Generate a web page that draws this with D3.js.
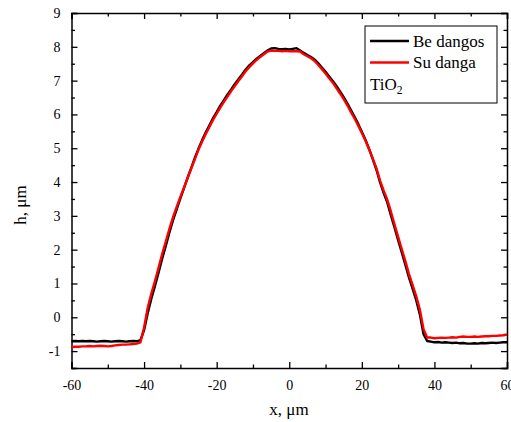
<!DOCTYPE html>
<html>
<head>
<meta charset="utf-8">
<script src="https://cdn.jsdelivr.net/npm/d3@7/dist/d3.min.js"></script>
<style>
  html, body { margin: 0; padding: 0; background: #fff; }
  svg { display: block; font-family: "Liberation Serif", "Times New Roman", serif; }
</style>
</head>
<body>
<svg id="chart" width="511" height="422"></svg>
<script>
// Profile positions, µm
const xPositions = d3.range(-60, 61, 1);

// Height profile before immersion (Be dangos), µm
const hBeDangos = [
  -0.71, -0.70, -0.71, -0.70, -0.71, -0.70, -0.71, -0.72, -0.71, -0.70,
  -0.71, -0.72, -0.71, -0.70, -0.71, -0.72, -0.71, -0.70, -0.71, -0.68,
  -0.38, 0.12, 0.55, 0.93, 1.33, 1.74, 2.12, 2.52, 2.88, 3.20,
  3.52, 3.82, 4.13, 4.42, 4.72, 4.99, 5.24, 5.47, 5.68, 5.89,
  6.07, 6.26, 6.42, 6.59, 6.74, 6.90, 7.04, 7.18, 7.33, 7.45,
  7.55, 7.65, 7.73, 7.81, 7.89, 7.95, 7.96, 7.94, 7.93, 7.94,
  7.92, 7.94, 7.96, 7.89, 7.82, 7.76, 7.70, 7.62, 7.51, 7.39,
  7.26, 7.12, 6.99, 6.84, 6.68, 6.51, 6.33, 6.13, 5.93, 5.72,
  5.49, 5.25, 4.98, 4.68, 4.37, 4.00, 3.68, 3.40, 3.02, 2.66,
  2.28, 1.92, 1.55, 1.17, 0.84, 0.50, 0.08, -0.50, -0.70, -0.72,
  -0.74, -0.73, -0.75, -0.74, -0.75, -0.76, -0.75, -0.77, -0.76, -0.78,
  -0.78, -0.77, -0.78, -0.76, -0.77, -0.76, -0.75, -0.76, -0.75, -0.74,
  -0.74
];

// Height profile with the cover layer (Su danga), µm
const hSuDanga = [
  -0.88, -0.87, -0.87, -0.86, -0.86, -0.85, -0.86, -0.85, -0.84, -0.85,
  -0.86, -0.85, -0.83, -0.82, -0.81, -0.81, -0.80, -0.79, -0.78, -0.74,
  -0.30, 0.28, 0.70, 1.07, 1.47, 1.88, 2.25, 2.62, 2.97, 3.27,
  3.56, 3.84, 4.12, 4.40, 4.68, 4.96, 5.20, 5.42, 5.63, 5.84,
  6.02, 6.20, 6.37, 6.53, 6.69, 6.84, 6.99, 7.13, 7.28, 7.40,
  7.51, 7.61, 7.70, 7.78, 7.86, 7.89, 7.88, 7.88, 7.87, 7.88,
  7.87, 7.87, 7.87, 7.86, 7.78, 7.72, 7.66, 7.58, 7.46, 7.34,
  7.21, 7.07, 6.94, 6.78, 6.62, 6.45, 6.27, 6.07, 5.88, 5.67,
  5.45, 5.22, 4.97, 4.70, 4.42, 4.05, 3.75, 3.48, 3.13, 2.75,
  2.38, 2.02, 1.66, 1.28, 0.95, 0.62, 0.22, -0.35, -0.60, -0.60,
  -0.62, -0.61, -0.60, -0.61, -0.60, -0.59, -0.60, -0.58, -0.57, -0.58,
  -0.58, -0.57, -0.58, -0.57, -0.56, -0.56, -0.55, -0.55, -0.54, -0.53,
  -0.51
];

const seriesNames = ["Be dangos", "Su danga"];
const seriesColors = ["#000000", "#ff0000"];
const xTicks = [-60, -40, -20, 0, 20, 40, 60];
const yTicks = [-1, 0, 1, 2, 3, 4, 5, 6, 7, 8, 9];
const xTitle = "x, \u03bcm";
const yTitle = "h, \u03bcm";

const svg = d3.select("#chart");
const plotLeft = 71.5, plotRight = 507, plotTop = 13, plotBottom = 368;

const x = d3.scaleLinear().domain([-60, 60]).range([plotLeft, plotRight]);
const y = d3.scaleLinear().domain([-1.5, 9]).range([plotBottom, plotTop]);

const minorX = d3.range(-50, 60, 20);
const minorY = d3.range(-1.5, 9, 1);
// plain hyphen for negative tick labels
const tickText = d => String(d);

function styleAxis(g) {
  g.attr("font-family", "Liberation Serif, serif");
  g.select(".domain").attr("stroke", "#000").attr("stroke-width", 1.5);
  g.selectAll(".tick line").attr("stroke", "#000").attr("stroke-width", 1.3);
}

// bottom axis with labels, ticks pointing inward
const gx = svg.append("g").attr("transform", `translate(0,${plotBottom})`)
  .call(d3.axisBottom(x).tickValues(xTicks).tickSize(-6).tickPadding(12).tickFormat(tickText));
styleAxis(gx);
gx.selectAll("text").attr("font-size", 14).attr("fill", "#000");
svg.append("g").attr("transform", `translate(0,${plotBottom})`)
  .call(d3.axisBottom(x).tickValues(minorX).tickSize(-3.5).tickFormat(""))
  .call(styleAxis).select(".domain").remove();

// top axis, ticks only
svg.append("g").attr("transform", `translate(0,${plotTop})`)
  .call(d3.axisTop(x).tickValues(xTicks).tickSize(-6).tickFormat(""))
  .call(styleAxis);
svg.append("g").attr("transform", `translate(0,${plotTop})`)
  .call(d3.axisTop(x).tickValues(minorX).tickSize(-3.5).tickFormat(""))
  .call(styleAxis).select(".domain").remove();

// left axis with labels
const gy = svg.append("g").attr("transform", `translate(${plotLeft},0)`)
  .call(d3.axisLeft(y).tickValues(yTicks).tickSize(-6).tickPadding(11).tickFormat(tickText));
styleAxis(gy);
gy.selectAll("text").attr("font-size", 14).attr("fill", "#000");
svg.append("g").attr("transform", `translate(${plotLeft},0)`)
  .call(d3.axisLeft(y).tickValues(minorY).tickSize(-3.5).tickFormat(""))
  .call(styleAxis).select(".domain").remove();

// right axis, ticks only
svg.append("g").attr("transform", `translate(${plotRight},0)`)
  .call(d3.axisRight(y).tickValues(yTicks).tickSize(-6).tickFormat(""))
  .call(styleAxis);
svg.append("g").attr("transform", `translate(${plotRight},0)`)
  .call(d3.axisRight(y).tickValues(minorY).tickSize(-3.5).tickFormat(""))
  .call(styleAxis).select(".domain").remove();

// axis titles
svg.append("text").attr("x", 289).attr("y", 415)
  .attr("text-anchor", "middle").attr("font-size", 17).text(xTitle);
svg.append("text")
  .attr("transform", "translate(26,205) rotate(-90)")
  .attr("text-anchor", "middle").attr("font-size", 17).text(yTitle);

// profiles
const line = d3.line().x((d, i) => x(xPositions[i])).y(d => y(d));
[hBeDangos, hSuDanga].forEach((vals, k) => {
  svg.append("path").datum(vals)
    .attr("fill", "none")
    .attr("stroke", seriesColors[k])
    .attr("stroke-width", 2.4)
    .attr("stroke-linejoin", "round")
    .attr("d", line);
});

// legend
const lg = svg.append("g");
lg.append("rect").attr("x", 365).attr("y", 26).attr("width", 132).attr("height", 77)
  .attr("fill", "#fff").attr("stroke", "#000").attr("stroke-width", 1);
seriesNames.forEach((name, k) => {
  const yy = 41 + k * 21.5;
  lg.append("line").attr("x1", 370).attr("x2", 409).attr("y1", yy).attr("y2", yy)
    .attr("stroke", seriesColors[k]).attr("stroke-width", 2.4);
  lg.append("text").attr("x", 413).attr("y", yy + 5.5).attr("font-size", 17).text(name);
});
const tio = lg.append("text").attr("x", 370).attr("y", 90).attr("font-size", 17);
tio.append("tspan").text("TiO");
tio.append("tspan").attr("font-size", 11.5).attr("dy", 4).text("2");
</script>
</body>
</html>
